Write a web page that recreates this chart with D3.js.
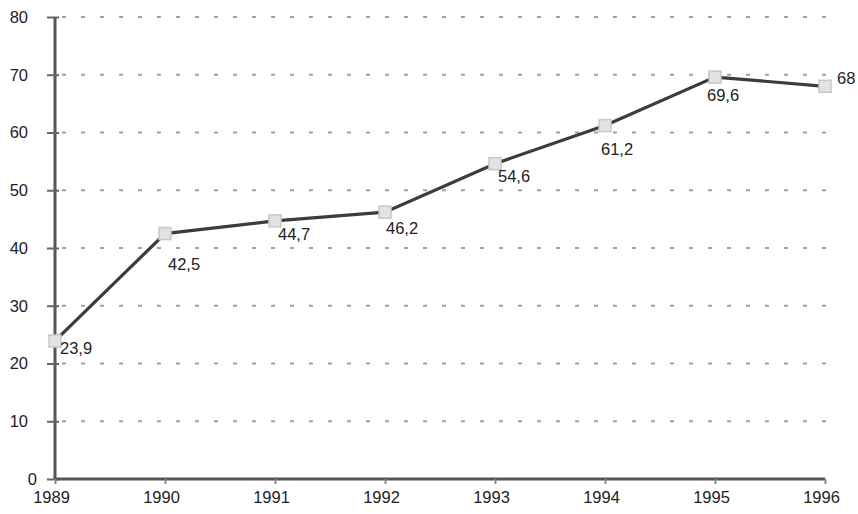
<!DOCTYPE html>
<html><head><meta charset="utf-8">
<script src="https://cdn.jsdelivr.net/npm/d3@7"></script>
<style>body{margin:0;background:#fff}svg{display:block}</style>
</head><body>
<svg id="c" width="858" height="514"></svg>
<script>
const years = [1989, 1990, 1991, 1992, 1993, 1994, 1995, 1996];
const values = [23.9, 42.5, 44.7, 46.2, 54.6, 61.2, 69.6, 68];
const valueLabels = ["23,9", "42,5", "44,7", "46,2", "54,6", "61,2", "69,6", "68"];
const yTicks = [0, 10, 20, 30, 40, 50, 60, 70, 80];
// label placement offsets (styling)
const labelDx = [5, 3, 3, 1, 3, -4, -8, 12];
const labelDy = [7, 31, 13, 16, 13, 24, 18, -8];

const svg = d3.select("#c");
const font = "Liberation Sans, Arial, sans-serif";
const fs = 16.5;
const x = d3.scaleLinear().domain([1989, 1996]).range([55, 825]);
const y = d3.scaleLinear().domain([0, 80]).range([479, 17]);

// grid
svg.append("g").selectAll("line").data(yTicks.filter(d => d > 0)).join("line")
  .attr("x1", 62).attr("x2", 830)
  .attr("y1", d => y(d)).attr("y2", d => y(d))
  .attr("stroke", "#a0a0a0").attr("stroke-width", 2)
  .attr("stroke-dasharray", "4 15");

// y axis
const ya = svg.append("g").attr("transform", "translate(55,0)")
  .call(d3.axisLeft(y).tickValues(yTicks).tickSize(8).tickPadding(19).tickFormat(d3.format("d")));
ya.select(".domain").attr("stroke", "#555").attr("stroke-width", 3).attr("d", `M0,${y(80)}V${y(0)}`);
ya.selectAll(".tick line").attr("stroke", "#666").attr("stroke-width", 2).attr("x2", -8).attr("x1", 4);
ya.selectAll(".tick text").attr("font-family", font).attr("font-size", fs).attr("fill", "#222")
  .attr("x", d => d === 0 ? -18 : -27);

// x axis
const xa = svg.append("g").attr("transform", `translate(0,${y(0)})`)
  .call(d3.axisBottom(x).tickValues(years).tickSize(5).tickPadding(7).tickFormat(d3.format("d")));
xa.select(".domain").attr("stroke", "#555").attr("stroke-width", 3).attr("d", `M${x(1989)},0H${x(1996)}`);
xa.selectAll(".tick line").attr("stroke", "#888").attr("stroke-width", 2);
xa.selectAll(".tick text").attr("font-family", font).attr("font-size", fs).attr("fill", "#222").attr("dx", -4);

const pts = years.map((yr, i) => ({yr, v: values[i], lab: valueLabels[i], dx: labelDx[i], dy: labelDy[i]}));

// line
svg.append("path").datum(pts)
  .attr("d", d3.line().x(d => x(d.yr)).y(d => y(d.v)))
  .attr("fill", "none").attr("stroke", "#3c3c3c").attr("stroke-width", 3.2);

// markers
svg.append("g").selectAll("rect").data(pts).join("rect")
  .attr("x", d => x(d.yr) - 6).attr("y", d => y(d.v) - 6)
  .attr("width", 12).attr("height", 12)
  .attr("fill", "#e2e2e2").attr("stroke", "#c8c8c8").attr("stroke-width", 1.5);

// labels
svg.append("g").selectAll("text").data(pts).join("text")
  .attr("x", d => x(d.yr) + d.dx).attr("y", d => y(d.v) + d.dy)
  .attr("dy", "0.35em")
  .attr("font-family", font).attr("font-size", fs).attr("fill", "#222")
  .text(d => d.lab);
</script>
</body></html>
